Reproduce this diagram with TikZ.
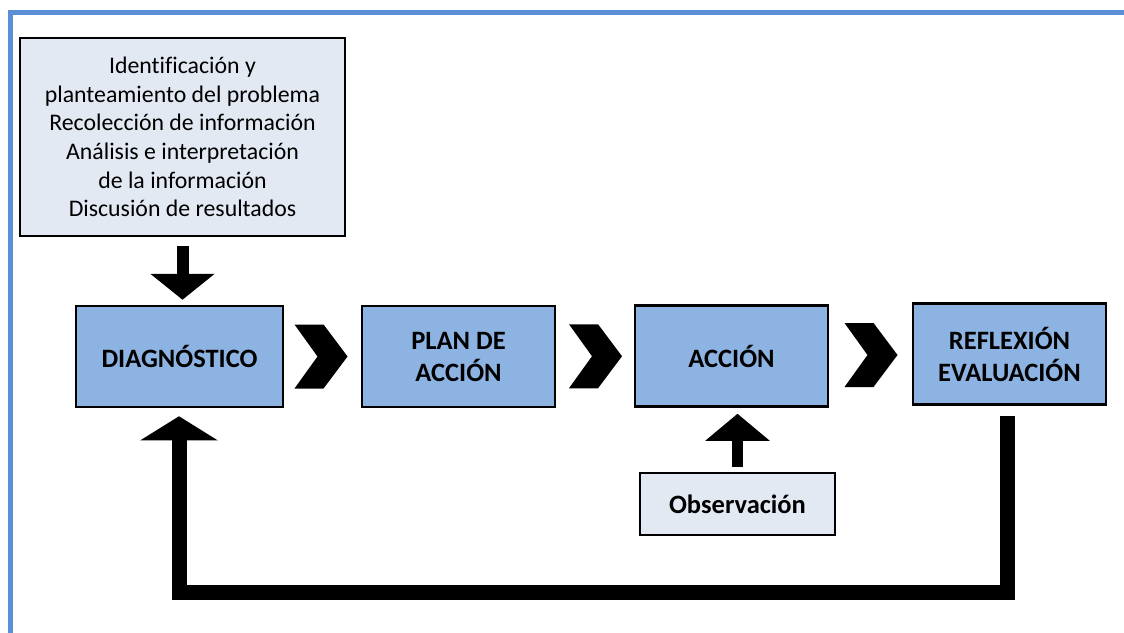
\documentclass[tikz,border=0pt]{standalone}
\usepackage{fontspec}
\setmainfont[Ligatures=CommonOff]{Carlito}
\usetikzlibrary{arrows.meta,calc}
\definecolor{frameblue}{HTML}{5A8ED5}
\definecolor{boxblue}{HTML}{8DB3E2}
\definecolor{lightblue}{HTML}{E2E9F3}
\begin{document}
\begin{tikzpicture}[x=1pt,y=-1pt,
  mainbox/.style={draw=black,line width=2.5pt,fill=boxblue,minimum width=193pt,minimum height=101pt,
    font=\fontsize{26.5}{32}\selectfont\bfseries,align=center,inner sep=0pt},
  infobox/.style={draw=black,line width=2pt,fill=lightblue,align=center,inner sep=0pt},
  chev/.style={fill=black},
  fatarrow/.style={line width=#1,draw=black},
]
\useasboundingbox (0,0) rectangle (1124,632);
\draw[frameblue,line width=5pt] (10,640) -- (10,12) -- (1130,12);

\node[infobox,minimum width=325pt,minimum height=198pt,font=\fontsize{23.8}{28.7}\selectfont] (info) at (182.5,137)
  {Identificación y\\planteamiento del problema\\Recolección de información\\Análisis e interpretación\\de la información\\Discusión de resultados};

\node[mainbox,minimum width=207pt] (diag) at (179.5,356.5) {DIAGNÓSTICO};
\node[mainbox] (plan) at (458.5,356.5) {PLAN DE\\ACCIÓN};
\node[mainbox] (acc) at (731.5,356) {ACCIÓN};
\node[mainbox] (refl) at (1009.5,354) {REFLEXIÓN\\EVALUACIÓN};
\node[infobox,minimum width=195pt,minimum height=62pt,font=\fontsize{26.5}{32}\selectfont\bfseries] (obs) at (737.5,504) {Observación};

% chevrons between the boxes
\foreach \a/\b/\d in {diag/plan/-2, plan/acc/0, acc/refl/0}{
  \coordinate (c) at ($(\a.east)!0.5!(\b.west)$);
  \fill[chev] ($(c)+(\d,0)+(-26,-32)$) -- ++(29,0) -- ++(24,32) -- ++(-24,32) -- ++(-29,0) -- ++(23,-32) -- cycle;
}

% info -> diagnostico
\draw[fatarrow=12pt,-{Triangle[width=63pt,length=26pt]}] ($(info.south)+(0,9)$) -- ($(info.south |- diag.north)+(0,-5)$);
% observacion -> accion
\draw[fatarrow=11pt,-{Triangle[width=63pt,length=27pt]}] ($(obs.north)+(0,-5)$) -- ($(obs.north |- acc.south)+(0,6)$);
% feedback loop
\draw[fatarrow=15pt,line join=miter,-{Triangle[width=76pt,length=24pt]}]
  ($(refl.south)+(-2,10)$) -- ++(0,177) -| ($(diag.south)+(-0.5,8)$);
\end{tikzpicture}
\end{document}
